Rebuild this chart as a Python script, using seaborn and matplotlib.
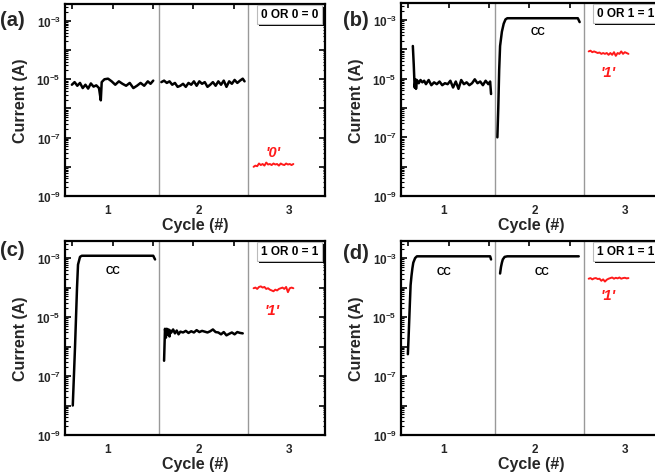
import matplotlib
matplotlib.use("Agg")
import matplotlib.pyplot as plt
import matplotlib.patheffects as pe
import seaborn as sns
from matplotlib.ticker import FixedLocator, FuncFormatter, LogLocator, NullFormatter

# ---------------- data (Cycle #, Current in A) ----------------
cycle_ticks = [1, 2, 3]
cycle_labels = ["1", "2", "3"]
separators = [1.56, 2.55]
decades = [1e-9, 1e-8, 1e-7, 1e-6, 1e-5, 1e-4, 1e-3]

titles = ["0 OR 0 = 0", "0 OR 1 = 1", "1 OR 0 = 1", "1 OR 1 = 1"]
panel_tags = ["(a)", "(b)", "(c)", "(d)"]
outputs = ["'0'", "'1'", "'1'", "'1'"]

# panel (a)
a_c1_x = [0.60, 0.63, 0.66, 0.69, 0.72, 0.75, 0.78, 0.81, 0.84, 0.87, 0.90, 0.92, 0.93, 0.96,
          1.00, 1.04, 1.08, 1.12, 1.16, 1.20, 1.24, 1.28, 1.32, 1.36, 1.40, 1.44, 1.47, 1.50]
a_c1_y = [6.5e-6, 8.0e-6, 6.0e-6, 7.5e-6, 5.0e-6, 6.5e-6, 4.8e-6, 7.2e-6, 5.6e-6, 6.2e-6, 5.0e-6,
          1.9e-6, 8.0e-6, 1.0e-5, 1.05e-5, 8.5e-6, 6.5e-6, 8.5e-6, 7.0e-6, 6.0e-6, 7.5e-6, 5.0e-6,
          6.0e-6, 7.5e-6, 6.0e-6, 8.5e-6, 7.0e-6, 9.0e-6]
a_c2_x = [1.59, 1.62, 1.65, 1.68, 1.71, 1.74, 1.77, 1.80, 1.83, 1.86, 1.89, 1.92, 1.95, 1.98, 2.01,
          2.04, 2.07, 2.10, 2.13, 2.16, 2.19, 2.22, 2.25, 2.28, 2.31, 2.34, 2.37, 2.40, 2.43, 2.46,
          2.49, 2.51]
a_c2_y = [8.0e-6, 9.0e-6, 7.5e-6, 8.5e-6, 6.5e-6, 7.5e-6, 5.5e-6, 6.0e-6, 7.0e-6, 5.5e-6, 7.5e-6,
          6.5e-6, 8.5e-6, 6.0e-6, 8.5e-6, 7.0e-6, 8.0e-6, 5.5e-6, 6.5e-6, 8.0e-6, 6.0e-6, 8.5e-6,
          6.5e-6, 9.0e-6, 5.5e-6, 8.5e-6, 7.0e-6, 9.5e-6, 7.5e-6, 9.0e-6, 1.05e-5, 8.5e-6]
a_c3_x = [2.61, 2.63, 2.65, 2.67, 2.69, 2.71, 2.73, 2.75, 2.77, 2.79, 2.81, 2.83, 2.85, 2.87, 2.89,
          2.91, 2.93, 2.95, 2.97, 2.99, 3.01, 3.03, 3.05]
a_c3_y = [1.0e-8, 1.1e-8, 1.05e-8, 1.3e-8, 1.15e-8, 1.25e-8, 1.1e-8, 1.4e-8, 1.2e-8, 1.25e-8, 1.15e-8,
          1.3e-8, 1.2e-8, 1.25e-8, 1.1e-8, 1.3e-8, 1.2e-8, 1.15e-8, 1.3e-8, 1.2e-8, 1.25e-8, 1.15e-8,
          1.25e-8]

# panel (b)
b_c1_x = [0.655, 0.665, 0.675, 0.685, 0.69, 0.70, 0.72, 0.74, 0.76, 0.78, 0.80, 0.83, 0.86, 0.89,
          0.92, 0.95, 0.98, 1.01, 1.04, 1.07, 1.10, 1.13, 1.16, 1.19, 1.22, 1.25, 1.28, 1.31, 1.34,
          1.37, 1.40, 1.43, 1.46, 1.49, 1.51, 1.52]
b_c1_y = [1.3e-4, 3.0e-5, 5.0e-6, 9.5e-6, 4.5e-6, 9.0e-6, 7.0e-6, 9.0e-6, 7.5e-6, 8.5e-6, 6.5e-6,
          9.0e-6, 6.0e-6, 7.5e-6, 6.5e-6, 8.0e-6, 6.0e-6, 7.0e-6, 6.5e-6, 8.5e-6, 5.0e-6, 8.0e-6,
          4.5e-6, 9.0e-6, 6.5e-6, 7.5e-6, 6.0e-6, 7.0e-6, 9.5e-6, 7.0e-6, 8.0e-6, 6.0e-6, 8.5e-6,
          6.5e-6, 8.0e-6, 3.0e-6]
b_c2_x = [1.59, 1.60, 1.61, 1.62, 1.64, 1.66, 1.68, 1.70, 1.80, 1.90, 2.00, 2.10, 2.20, 2.30, 2.40,
          2.48, 2.50]
b_c2_y = [1.0e-7, 1.0e-6, 2.0e-5, 1.3e-4, 4.0e-4, 7.5e-4, 1.05e-3, 1.15e-3, 1.15e-3, 1.15e-3, 1.15e-3,
          1.15e-3, 1.15e-3, 1.15e-3, 1.15e-3, 1.15e-3, 8.5e-4]
b_c3_x = [2.60, 2.62, 2.64, 2.66, 2.68, 2.70, 2.72, 2.74, 2.76, 2.78, 2.80, 2.82, 2.84, 2.86, 2.88,
          2.90, 2.92, 2.94, 2.96, 2.98, 3.00, 3.02, 3.04]
b_c3_y = [8.5e-5, 9.0e-5, 8.0e-5, 8.5e-5, 8.0e-5, 7.5e-5, 7.8e-5, 7.0e-5, 7.5e-5, 7.0e-5, 7.5e-5,
          6.5e-5, 7.5e-5, 6.5e-5, 8.0e-5, 6.0e-5, 7.5e-5, 7.0e-5, 8.5e-5, 7.0e-5, 8.0e-5, 7.5e-5,
          7.0e-5]

# panel (c)
c_c1_x = [0.61, 0.635, 0.657, 0.668, 0.69, 0.71, 0.80, 0.90, 1.00, 1.10, 1.20, 1.30, 1.40, 1.50, 1.52]
c_c1_y = [1.0e-8, 1.0e-6, 1.0e-4, 6.0e-4, 1.1e-3, 1.2e-3, 1.2e-3, 1.2e-3, 1.2e-3, 1.2e-3, 1.2e-3,
          1.2e-3, 1.2e-3, 1.2e-3, 9.0e-4]
c_c2_x = [1.62, 1.63, 1.64, 1.65, 1.66, 1.67, 1.68, 1.69, 1.70, 1.72, 1.74, 1.76, 1.78, 1.80, 1.83,
          1.86, 1.89, 1.92, 1.95, 1.98, 2.01, 2.04, 2.07, 2.10, 2.13, 2.16, 2.19, 2.22, 2.25, 2.28,
          2.31, 2.34, 2.37, 2.40, 2.43, 2.46, 2.49]
c_c2_y = [3.3e-7, 4.0e-6, 2.0e-6, 4.0e-6, 2.5e-6, 3.8e-6, 2.2e-6, 3.5e-6, 3.0e-6, 3.8e-6, 2.8e-6,
          3.5e-6, 2.6e-6, 3.2e-6, 3.0e-6, 3.4e-6, 2.9e-6, 3.3e-6, 3.0e-6, 3.6e-6, 3.1e-6, 3.4e-6,
          3.2e-6, 3.0e-6, 3.3e-6, 3.8e-6, 3.1e-6, 3.0e-6, 2.6e-6, 3.1e-6, 2.4e-6, 2.7e-6, 3.0e-6,
          2.6e-6, 3.1e-6, 2.9e-6, 2.8e-6]
c_c3_x = [2.61, 2.63, 2.65, 2.67, 2.69, 2.71, 2.73, 2.75, 2.77, 2.79, 2.81, 2.83, 2.85, 2.87, 2.89,
          2.91, 2.93, 2.95, 2.97, 2.99, 3.01, 3.03, 3.05]
c_c3_y = [9.5e-5, 1.0e-4, 9.0e-5, 1.05e-4, 1.1e-4, 1.0e-4, 1.05e-4, 9.0e-5, 9.5e-5, 8.5e-5, 8.0e-5,
          7.5e-5, 8.5e-5, 8.0e-5, 9.0e-5, 9.5e-5, 1.0e-4, 9.0e-5, 1.05e-4, 7.0e-5, 9.5e-5, 1.0e-4,
          9.5e-5]

# panel (d)
d_c1_x = [0.60, 0.61, 0.62, 0.63, 0.64, 0.65, 0.66, 0.68, 0.70, 0.80, 0.90, 1.00, 1.10, 1.20, 1.30,
          1.40, 1.51, 1.52]
d_c1_y = [5.5e-7, 3.0e-6, 2.0e-5, 1.2e-4, 2.5e-4, 4.5e-4, 7.0e-4, 1.0e-3, 1.15e-3, 1.15e-3, 1.15e-3,
          1.15e-3, 1.15e-3, 1.15e-3, 1.15e-3, 1.15e-3, 1.15e-3, 9.0e-4]
d_c2_x = [1.62, 1.63, 1.64, 1.65, 1.67, 1.70, 1.80, 1.90, 2.00, 2.10, 2.20, 2.30, 2.40, 2.49]
d_c2_y = [3.0e-4, 5.0e-4, 7.0e-4, 9.0e-4, 1.1e-3, 1.15e-3, 1.15e-3, 1.15e-3, 1.15e-3, 1.15e-3,
          1.15e-3, 1.15e-3, 1.15e-3, 1.15e-3]
d_c3_x = [2.60, 2.62, 2.64, 2.66, 2.68, 2.70, 2.72, 2.74, 2.76, 2.78, 2.80, 2.82, 2.84, 2.86, 2.88,
          2.90, 2.92, 2.94, 2.96, 2.98, 3.00, 3.02, 3.04]
d_c3_y = [2.0e-4, 2.1e-4, 1.9e-4, 2.05e-4, 2.1e-4, 1.95e-4, 2.0e-4, 1.7e-4, 1.9e-4, 1.6e-4, 1.85e-4,
          2.0e-4, 2.1e-4, 2.2e-4, 2.0e-4, 2.15e-4, 2.05e-4, 2.2e-4, 2.0e-4, 2.1e-4, 2.15e-4, 2.05e-4,
          2.1e-4]

# ---------------- style ----------------
sns.set_theme(style="white")
plt.rcParams["font.family"] = ["Liberation Sans", "DejaVu Sans"]
plt.rcParams["font.weight"] = "bold"
plt.rcParams["mathtext.fontset"] = "custom"
plt.rcParams["mathtext.rm"] = "Liberation Sans:bold"
plt.rcParams["mathtext.bf"] = "Liberation Sans:bold"
plt.rcParams["mathtext.it"] = "Liberation Sans:bold:italic"

W, H = 655, 477
fig = plt.figure(figsize=(W / 100, H / 100), dpi=100)

# axes rectangles in pixels: left, top, width, height
rects = [(65, 5, 260, 192), (401, 4, 260, 193), (65, 242, 260, 194), (401, 242, 260, 194)]
tag_pos = [(0, 20), (343, 21), (0, 251), (343, 254)]

panels = [
    dict(black=[(a_c1_x, a_c1_y), (a_c2_x, a_c2_y)], red=(a_c3_x, a_c3_y),
         cc=[], out=(2.83, 3.2e-8)),
    dict(black=[(b_c1_x, b_c1_y), (b_c2_x, b_c2_y)], red=(b_c3_x, b_c3_y),
         cc=[(2.04, 4.2e-4)], out=(2.81, 1.7e-5)),
    dict(black=[(c_c1_x, c_c1_y), (c_c2_x, c_c2_y)], red=(c_c3_x, c_c3_y),
         cc=[(1.05, 3.9e-4)], out=(2.82, 1.8e-5)),
    dict(black=[(d_c1_x, d_c1_y), (d_c2_x, d_c2_y)], red=(d_c3_x, d_c3_y),
         cc=[(1.00, 3.6e-4), (2.08, 3.6e-4)], out=(2.81, 5.5e-5)),
]


def fmt(v, pos):
    import math
    e = int(round(math.log10(v)))
    if e % 2 == 0:
        return ""
    return r"$\mathbf{10^{%d}}$" % e


for i, p in enumerate(panels):
    l, t, w, h = rects[i]
    ax = fig.add_axes([l / W, 1 - (t + h) / H, w / W, h / H])
    ax.set_yscale("log")
    for xs, ys in p["black"]:
        sns.lineplot(x=xs, y=ys, ax=ax, color="black", linewidth=1.8,
                     estimator=None, sort=False, legend=False)
    rx, ry = p["red"]
    sns.lineplot(x=rx, y=ry, ax=ax, color="#ff1a1a", linewidth=1.4,
                 estimator=None, sort=False, legend=False)
    for s in separators:
        ax.axvline(s, color="#999999", lw=1.0, zorder=0.5)
    ax.set_xlim(0.524, 3.40)
    ax.set_ylim(1e-9, 10 ** -2.42)

    # ticks
    ax.xaxis.set_major_locator(FixedLocator(cycle_ticks))
    ax.set_xticklabels(cycle_labels)
    ax.xaxis.set_minor_locator(FixedLocator([0.60, 1.05, 1.50, 1.94, 2.39, 2.84, 3.29]))
    ax.tick_params(axis="x", which="major", length=0, pad=6, labelsize=8.5)
    ax.tick_params(axis="x", which="minor", bottom=False, top=True, direction="in", length=3.5,
                   width=1.2, color="black")
    ax.yaxis.set_major_locator(FixedLocator(decades))
    ax.yaxis.set_major_formatter(FuncFormatter(fmt))
    ax.yaxis.set_minor_locator(LogLocator(base=10, subs=[2, 3, 4, 5, 6, 7, 8, 9], numticks=20))
    ax.yaxis.set_minor_formatter(NullFormatter())
    ax.tick_params(axis="y", which="major", left=True, right=True, direction="in", length=4,
                   width=1.2, color="black", labelsize=8.5, pad=3)
    ax.tick_params(axis="y", which="minor", left=True, right=True, direction="in", length=1.8,
                   width=0.8, color="black")
    for sp in ax.spines.values():
        sp.set_color("black")
        sp.set_linewidth(1.6)

    ax.set_xlabel("Cycle (#)", fontsize=11.5, fontweight="bold", labelpad=0.5)
    ax.set_ylabel("Current (A)", fontsize=11.5, fontweight="bold", labelpad=6)

    # annotations
    for cx, cy in p["cc"]:
        ax.text(cx, cy, "CC", fontsize=7.5, fontweight="bold", ha="center", va="center",
                color="black")
    ox, oy = p["out"]
    ax.text(ox, oy, outputs[i], fontsize=10.5, fontweight="bold", fontstyle="italic",
            color="#ff1a1a", ha="center", va="center")

    # title box with a solid drop shadow
    shadow = [pe.SimplePatchShadow(offset=(1.6, -1.6), shadow_rgbFace="black", alpha=1.0),
              pe.Normal()]
    ax.annotate(titles[i], xy=(1, 1), xycoords="axes fraction", xytext=(-5.0, -3.2),
                textcoords="offset points", ha="right", va="top", fontsize=8.5,
                fontweight="bold", color="black",
                bbox=dict(boxstyle="square,pad=0.3", fc="white", ec="#bbbbbb", lw=0.8,
                          path_effects=shadow),
                zorder=7)

    tx, ty = tag_pos[i]
    fig.text(tx / W, 1 - ty / H, panel_tags[i], fontsize=14.5, fontweight="bold",
             ha="left", va="center")

fig.savefig("out.png", dpi=100)
